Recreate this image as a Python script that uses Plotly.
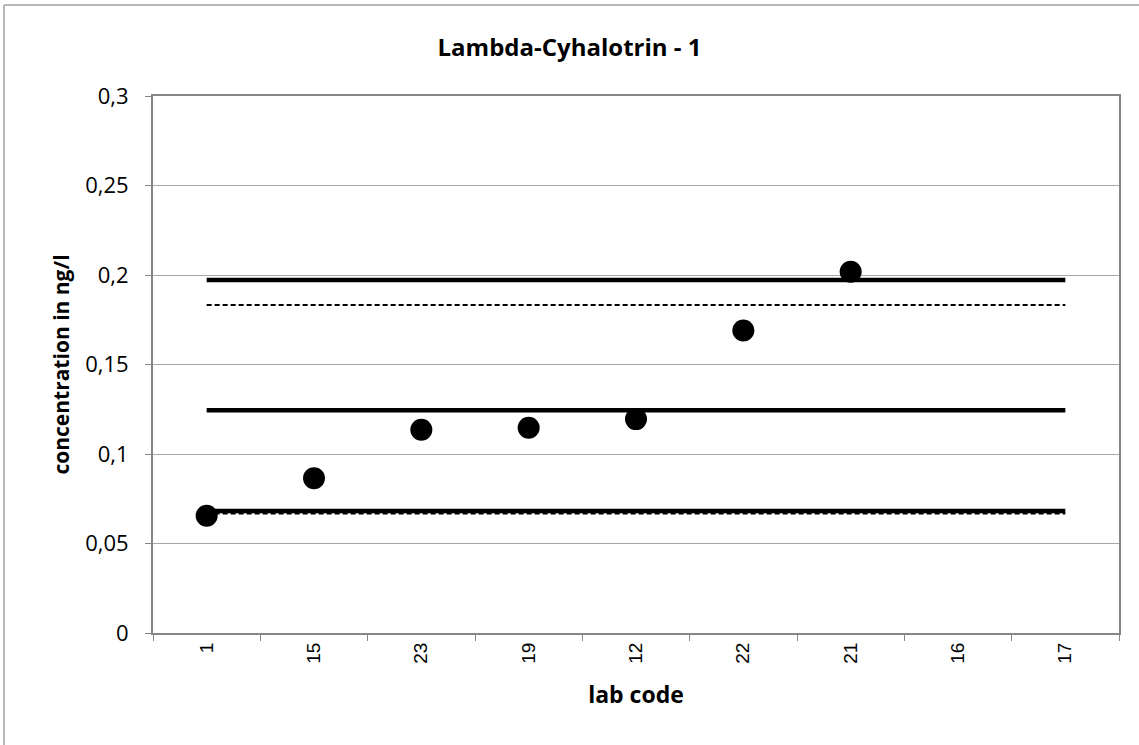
import plotly.graph_objects as go

labs = ["1", "15", "23", "19", "12", "22", "21", "16", "17"]
pt_labs = ["1", "15", "23", "19", "12", "22", "21"]
pt_vals = [0.0655, 0.0865, 0.1135, 0.1147, 0.1195, 0.169, 0.2018]

solid_levels = [0.1972, 0.1245, 0.0681]
dashed_levels = [0.1833, 0.0667]

y_tickvals = [0, 0.05, 0.1, 0.15, 0.2, 0.25, 0.3]
y_ticktext = ["0", "0,05", "0,1", "0,15", "0,2", "0,25", "0,3"]

fig = go.Figure()

# dummy trace to set all categories
fig.add_trace(go.Scatter(x=labs, y=[None] * len(labs), mode="markers",
                         showlegend=False, hoverinfo="skip"))

for lv in dashed_levels:
    fig.add_trace(go.Scatter(x=[labs[0], labs[-1]], y=[lv, lv], mode="lines",
                             line=dict(color="black", width=2, dash="5px,3px"),
                             showlegend=False))
for lv in solid_levels:
    fig.add_trace(go.Scatter(x=[labs[0], labs[-1]], y=[lv, lv], mode="lines",
                             line=dict(color="black", width=4.5),
                             showlegend=False))

fig.add_trace(go.Scatter(x=pt_labs, y=pt_vals, mode="markers",
                         marker=dict(color="black", size=22),
                         showlegend=False))

fig.update_layout(
    width=1139, height=745,
    margin=dict(l=153, r=20, t=96, b=112),
    paper_bgcolor="white", plot_bgcolor="white",
    title=dict(text="<b>Lambda-Cyhalotrin - 1</b>", x=0.5, xanchor="center",
               y=1 - 48 / 745, yanchor="middle",
               font=dict(family="Open Sans", size=24, color="black")),
    xaxis=dict(type="category", categoryorder="array", categoryarray=labs,
               range=[-0.5, len(labs) - 0.5],
               tickson="boundaries", ticks="outside", ticklen=6,
               tickcolor="#868686", tickangle=-90,
               showline=True, linecolor="#868686", linewidth=2, mirror=True,
               showgrid=False,
               tickfont=dict(family="Liberation Sans", size=19, color="black"),
               title=dict(text="<b>lab code</b>", standoff=24,
                          font=dict(family="Open Sans", size=23, color="black"))),
    yaxis=dict(range=[0, 0.3], tickvals=y_tickvals, ticktext=y_ticktext,
               ticks="outside", ticklen=6, tickcolor="#868686",
               ticklabelstandoff=12,
               showline=True, linecolor="#868686", linewidth=2, mirror=True,
               showgrid=True, gridcolor="#a6a6a6", gridwidth=1,
               zeroline=False,
               tickfont=dict(family="Open Sans", size=22, color="black"),
               title=dict(text="<b>concentration in ng/l</b>", standoff=10,
                          font=dict(family="Open Sans", size=21, color="black"))),
    shapes=[
        dict(type="line", xref="paper", yref="paper",
             x0=(4 - 153) / 966, x1=(1139 - 153) / 966,
             y0=(633 - 5) / 537, y1=(633 - 5) / 537,
             line=dict(color="#a0a0a0", width=1.5)),
        dict(type="line", xref="paper", yref="paper",
             x0=(4 - 153) / 966, x1=(4 - 153) / 966,
             y0=(633 - 5) / 537, y1=(633 - 745) / 537,
             line=dict(color="#a0a0a0", width=1.5)),
    ],
)

fig.write_html("out.html", config={"displayModeBar": False},
               post_script="document.body.style.margin='0';document.body.style.overflow='hidden';")
